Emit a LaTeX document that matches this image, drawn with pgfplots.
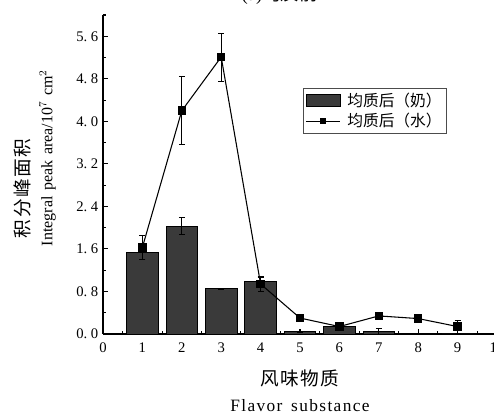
\documentclass[border=0pt]{standalone}
\usepackage{pgfplots}
\pgfplotsset{compat=1.18}
\usepackage{fontspec}
\setmainfont{Liberation Serif}
\newfontfamily\cjk{Noto Sans CJK SC}
\definecolor{barcol}{HTML}{3A3A3A}
\pgfplotsset{
 linelegend/.style={legend image code/.code={\draw[black, line width=0.8pt, mark=square*, mark size=2pt, mark repeat=2, mark phase=2] plot coordinates {(0cm,0cm) (0.45cm,0cm) (0.9cm,0cm)};}},
 barlegend/.style={legend image code/.code={\draw[fill=barcol,draw=black] (0cm,-0.17cm) rectangle (0.9cm,0.17cm);}},
}
\begin{document}
\begin{tikzpicture}
\path[use as bounding box, clip] (-77.25pt,-59.25pt) rectangle (293.25pt,250.5pt);
\begin{axis}[
 at={(0,0)}, anchor=south west, scale only axis,
 width=295.5pt, height=239.25pt,
 xmin=0, xmax=10, ymin=0, ymax=6,
 axis lines=left, axis line style={-, line width=0.8pt},
 xtick={0,1,2,3,4,5,6,7,8,9,10},
 minor xtick={0.5,1.5,2.5,3.5,4.5,5.5,6.5,7.5,8.5,9.5},
 ytick={0,0.8,1.6,2.4,3.2,4.0,4.8,5.6},
 minor ytick={0.4,1.2,2.0,2.8,3.6,4.4,5.2,6.0},
 tick align=inside, major tick length=3.5pt, minor tick length=2pt,
 tick style={black, line width=0.8pt},
 yticklabel={\pgfmathprintnumber[fixed,fixed zerofill,precision=1,assume math mode=true,dec sep={.\hspace{0.25em}}]{\tick}},
 xticklabel={\pgfmathprintnumber[assume math mode=true]{\tick}},
 ticklabel style={font=\fontsize{11}{12}\selectfont},
 xticklabel style={yshift=-3pt},
 xlabel={{\cjk\fontsize{14}{19.5}\selectfont\addfontfeature{LetterSpace=8} 风味物质}\\{\addfontfeature{LetterSpace=8}Flavor\hspace{0.5em}substance}},
 xlabel style={at={(axis description cs:0.5,0)}, anchor=north, yshift=-23pt, align=center, font=\fontsize{13}{19.5}\selectfont},
 ylabel={\hspace{6pt}{\cjk\fontsize{14}{17}\selectfont\addfontfeature{LetterSpace=8} 积分峰面积}\\Integral\hspace{0.35em}peak\hspace{0.35em}area/10$^{7}$\hspace{0.35em}cm$^{2}$},
 ylabel style={at={(axis description cs:-0.108,0.261)}, anchor=south west, align=left, font=\fontsize{12}{17}\selectfont},
 legend style={at={(0.508,0.772)}, anchor=north west, draw=black!70, font=\cjk\fontsize{11.8}{14.5}\selectfont, cells={anchor=west}, inner sep=1.5pt},
 clip=false,
]
\addplot[ybar, bar width=0.8, bar shift=0pt, fill=barcol, draw=black, line width=0.6pt, barlegend,
  error bars/.cd, y dir=both, y explicit, error bar style={black, line width=0.6pt}, error mark options={black, rotate=90, mark size=2.2pt, line width=0.6pt}]
 coordinates {
 (1,1.53) +- (0,0.12)
 (2,2.03) +- (0,0.16)
 (3,0.85) +- (0,0.01)
 (4,0.99) +- (0,0.10)
 (5,0.04) +- (0,0.01)
 (6,0.15) +- (0,0.02)
 (7,0.05) +- (0,0.05)
 (8,0.01) +- (0,0.01)
 (9,0.0) +- (0,0.0)
 };
\addlegendentry{\hspace{3pt}均质后（奶）\hspace{4pt}}
\addplot[black, line width=0.8pt, mark=square*, mark size=2.8pt, linelegend,
  error bars/.cd, y dir=both, y explicit, error bar style={black, line width=0.6pt}, error mark options={black, rotate=90, mark size=2.2pt, line width=0.6pt}]
 coordinates {
 (1,1.63) +- (0,0.22)
 (2,4.20) +- (0,0.64)
 (3,5.21) +- (0,0.45)
 (4,0.94) +- (0,0.13)
 (5,0.30) +- (0,0.03)
 (6,0.14) +- (0,0.06)
 (7,0.34) +- (0,0.03)
 (8,0.29) +- (0,0.03)
 (9,0.14) +- (0,0.12)
 };
\addlegendentry{\hspace{3pt}均质后（水）\hspace{4pt}}
\node[font=\fontsize{14}{16}\selectfont] at (axis description cs:0.449,1) [yshift=15pt] {(a){\cjk 均质前}};
\end{axis}
\end{tikzpicture}
\end{document}
